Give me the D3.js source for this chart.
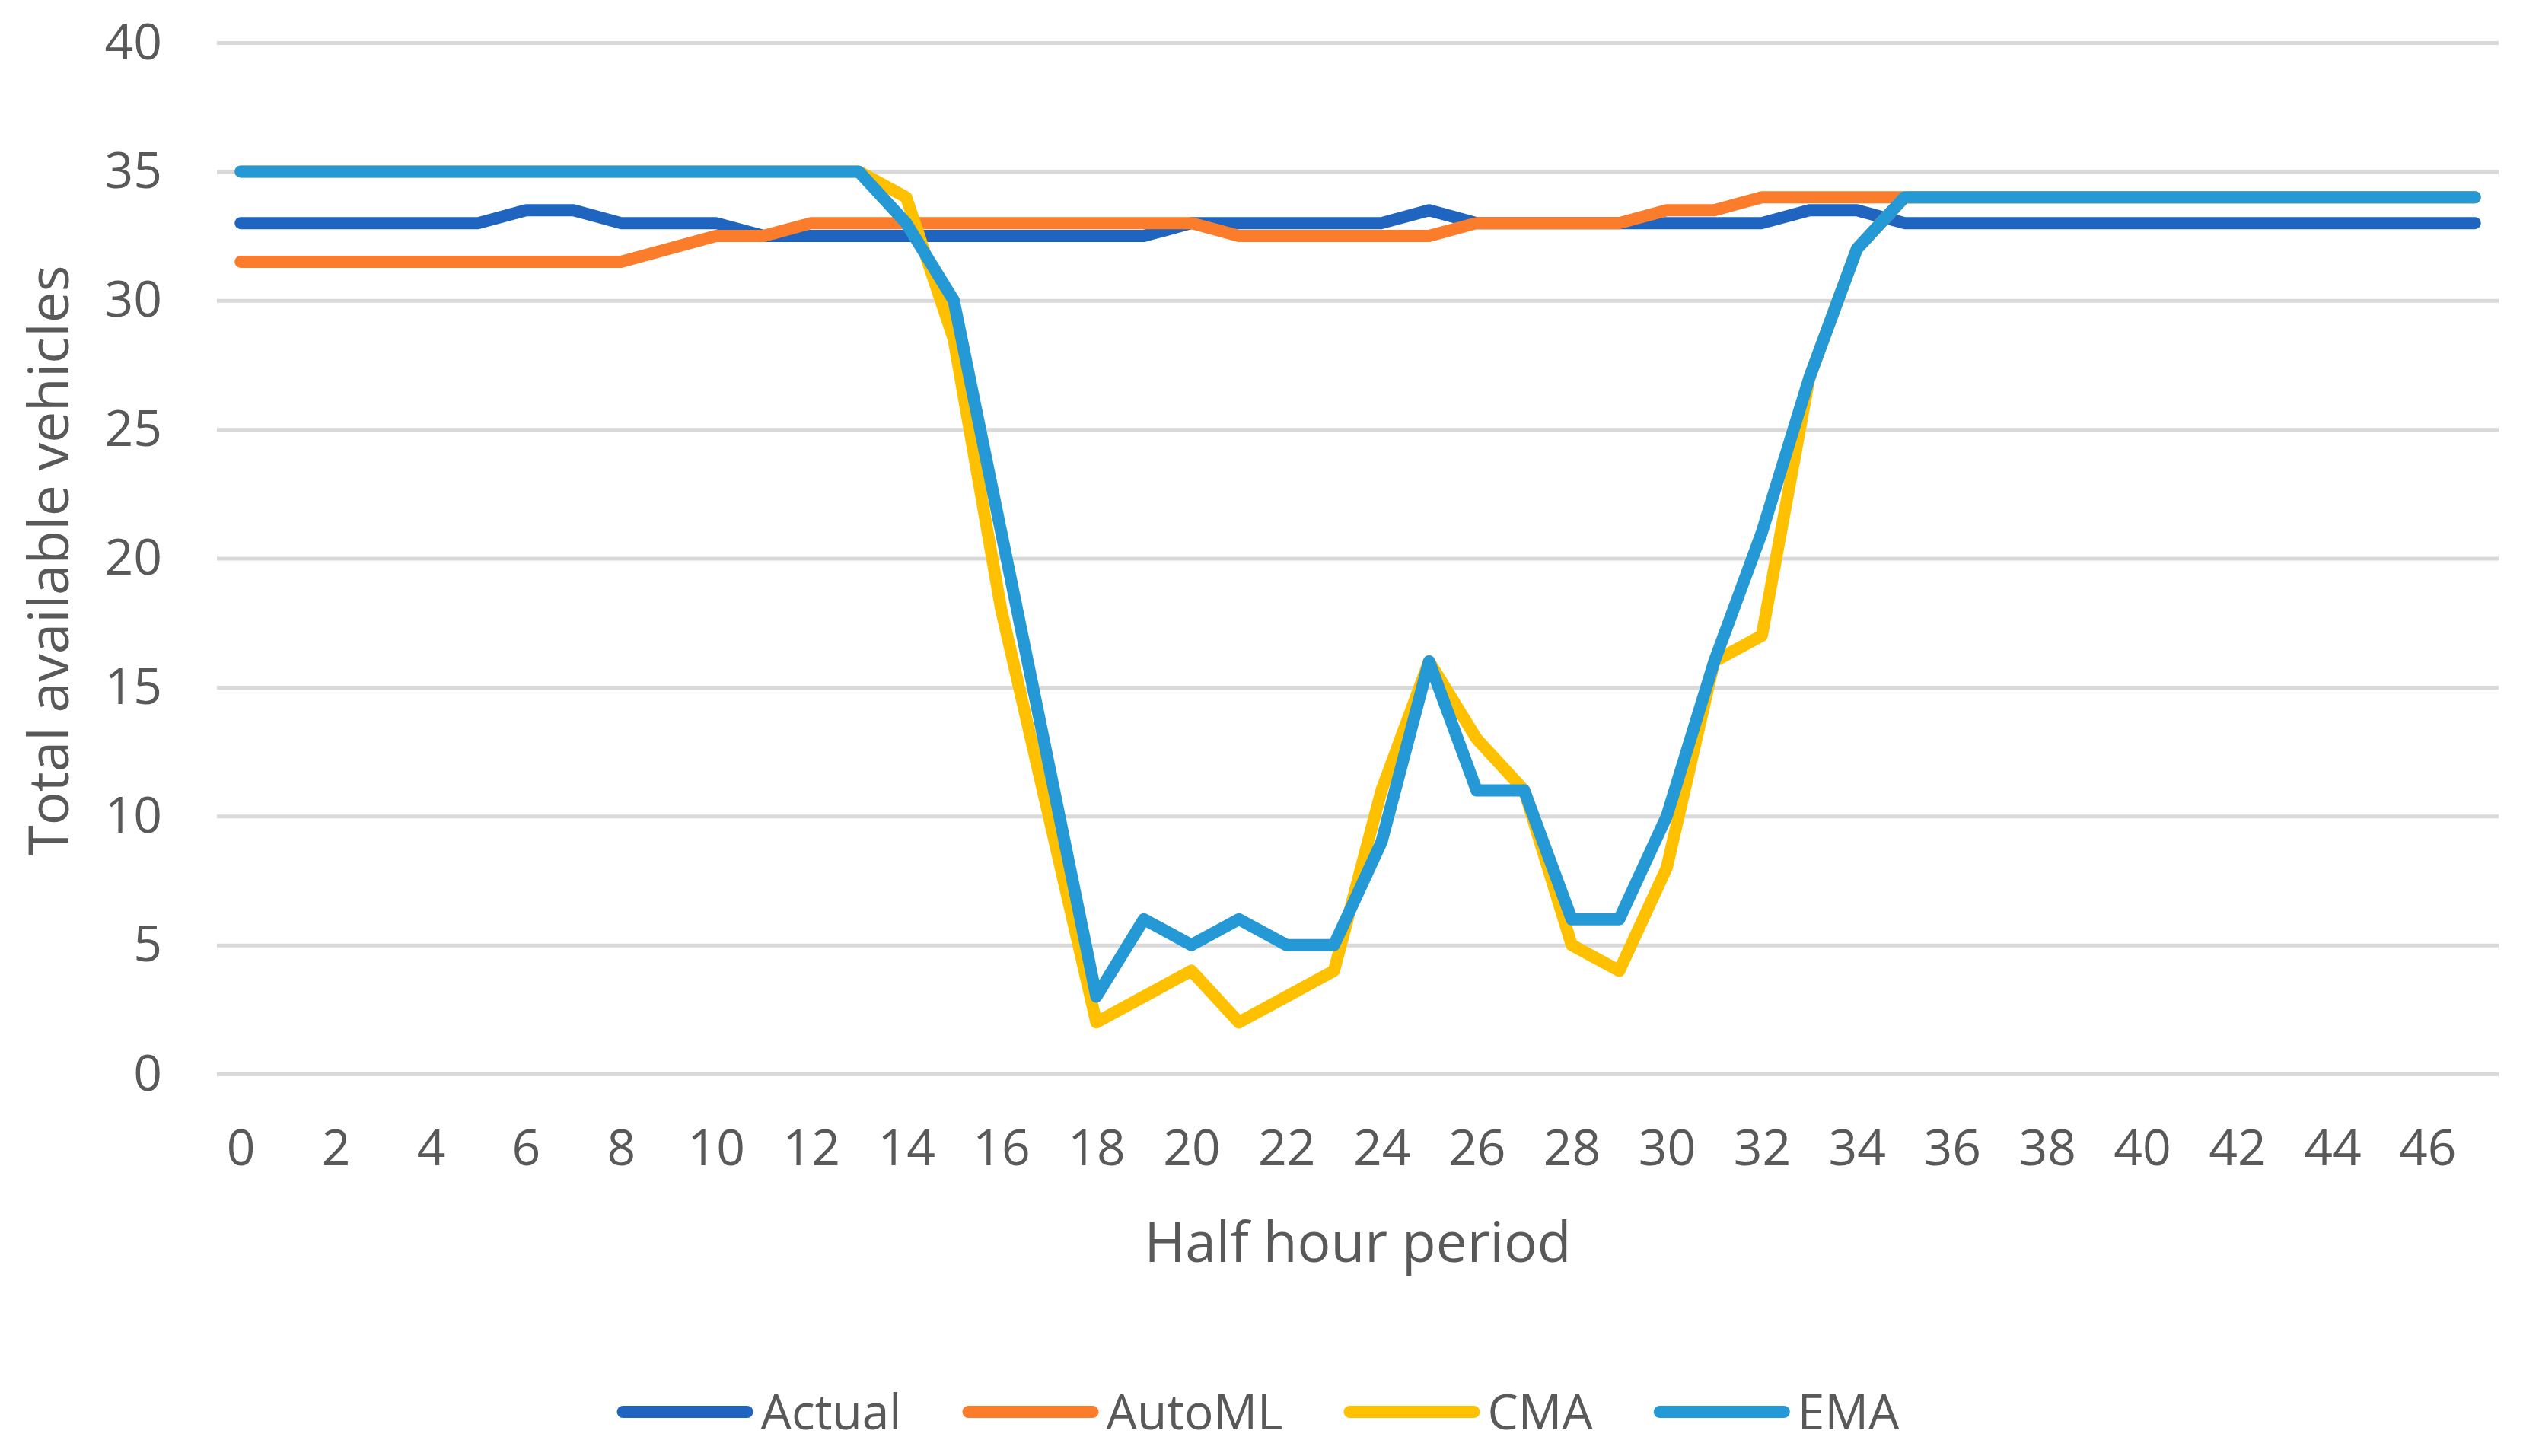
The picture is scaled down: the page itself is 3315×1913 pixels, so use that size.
<!DOCTYPE html>
<html>
<head>
<meta charset="utf-8">
<script src="https://cdn.jsdelivr.net/npm/d3@7/dist/d3.min.js"></script>
<style>
  html, body { margin: 0; padding: 0; background: #ffffff; }
  svg { display: block; }
  text { font-family: "Open Sans", "Noto Sans", sans-serif; fill: #595959; }
</style>
</head>
<body>
<svg id="chart" width="3315" height="1913"></svg>
<script>
// ---- data ----
const periods = [0,1,2,3,4,5,6,7,8,9,10,11,12,13,14,15,16,17,18,19,20,21,22,23,
                 24,25,26,27,28,29,30,31,32,33,34,35,36,37,38,39,40,41,42,43,44,45,46,47];
const xTickLabels = [0,2,4,6,8,10,12,14,16,18,20,22,24,26,28,30,32,34,36,38,40,42,44,46];
const yTickLabels = [0,5,10,15,20,25,30,35,40];

const actual = [33,33,33,33,33,33,33.5,33.5,33,33,33,32.5,32.5,32.5,32.5,32.5,32.5,32.5,32.5,32.5,
                33,33,33,33,33,33.5,33,33,33,33,33,33,33,33.5,33.5,
                33,33,33,33,33,33,33,33,33,33,33,33,33];
const automl = [31.5,31.5,31.5,31.5,31.5,31.5,31.5,31.5,31.5,32,32.5,32.5,
                33,33,33,33,33,33,33,33,33,32.5,32.5,32.5,32.5,32.5,33,33,33,33,33.5,33.5,
                34,34,34,34,34,34,34,34,34,34,34,34,34,34,34,34];
const cma = [35,35,35,35,35,35,35,35,35,35,35,35,35,35,
             34,28.5,18,10,2,3,4,2,3,4,11,16,13,11,5,4,8,16,17,27,32,
             34,34,34,34,34,34,34,34,34,34,34,34,34];
const ema = [35,35,35,35,35,35,35,35,35,35,35,35,35,35,
             33,30,21,12,3,6,5,6,5,5,9,16,11,11,6,6,10,16,21,27,32,
             34,34,34,34,34,34,34,34,34,34,34,34,34];

const seriesNames = ["Actual","AutoML","CMA","EMA"];
const seriesValues = [actual, automl, cma, ema];
const seriesColors = ["#1F65C0","#FB7D2B","#FFC000","#2499D5"];

// ---- layout ----
const svg = d3.select("#chart");
const plotLeft = 285, plotRight = 3283, plotTop = 56, plotBottom = 1411;

const x = d3.scalePoint().domain(periods).range([plotLeft, plotRight]).padding(0.5);
const y = d3.scaleLinear().domain([0, 40]).range([plotBottom, plotTop]);

// gridlines
const grid = svg.append("g")
  .attr("transform", `translate(${plotLeft},0)`)
  .call(d3.axisLeft(y).tickValues(yTickLabels).tickSize(-(plotRight - plotLeft)).tickFormat(""));
grid.select(".domain").remove();
grid.selectAll("line").attr("stroke", "#D9D9D9").attr("stroke-width", 5);

// y axis labels
const yAxis = svg.append("g")
  .attr("transform", `translate(${plotLeft},0)`)
  .call(d3.axisLeft(y).tickValues(yTickLabels).tickSize(0).tickPadding(72));
yAxis.select(".domain").remove();
yAxis.selectAll("text")
  .attr("font-size", 66).attr("fill", "#595959")
  .style("font-family", '"Open Sans", "Noto Sans", sans-serif');

// x axis labels
const xAxis = svg.append("g")
  .attr("transform", `translate(0,${plotBottom})`)
  .call(d3.axisBottom(x).tickValues(xTickLabels).tickSize(0).tickPadding(73));
xAxis.select(".domain").remove();
xAxis.selectAll("text")
  .attr("font-size", 66).attr("fill", "#595959")
  .style("font-family", '"Open Sans", "Noto Sans", sans-serif');

// axis titles
svg.append("text")
  .attr("transform", `translate(90,${(plotTop + plotBottom) / 2 + 3}) rotate(-90)`)
  .attr("text-anchor", "middle")
  .attr("font-size", 73)
  .text("Total available vehicles");

svg.append("text")
  .attr("x", (plotLeft + plotRight) / 2)
  .attr("y", 1658)
  .attr("text-anchor", "middle")
  .attr("font-size", 73)
  .text("Half hour period");

// lines
const line = d3.line()
  .x((d, i) => x(periods[i]))
  .y(d => y(d));

seriesValues.forEach((vals, k) => {
  svg.append("path")
    .datum(vals)
    .attr("d", line)
    .attr("fill", "none")
    .attr("stroke", seriesColors[k])
    .attr("stroke-width", 16)
    .attr("stroke-linejoin", "round")
    .attr("stroke-linecap", "round");
});

// legend
const legend = svg.append("g");
const lineLen = 163, capPad = 8, textGap = 10, itemGap = 80;
let cursor = 0;
seriesNames.forEach((name, k) => {
  const g = legend.append("g");
  g.append("line")
    .attr("x1", capPad).attr("x2", capPad + lineLen)
    .attr("y1", 0).attr("y2", 0)
    .attr("stroke", seriesColors[k])
    .attr("stroke-width", 16)
    .attr("stroke-linecap", "round");
  const t = g.append("text")
    .attr("x", capPad * 2 + lineLen + textGap)
    .attr("y", 0)
    .attr("dy", "0.36em")
    .attr("font-size", 64)
    .text(name);
  const w = capPad * 2 + lineLen + textGap + t.node().getComputedTextLength();
  g.attr("transform", `translate(${cursor},0)`);
  cursor += w + itemGap;
});
const totalW = cursor - itemGap;
legend.attr("transform", `translate(${1653 - totalW / 2},1855)`);
</script>
</body>
</html>
